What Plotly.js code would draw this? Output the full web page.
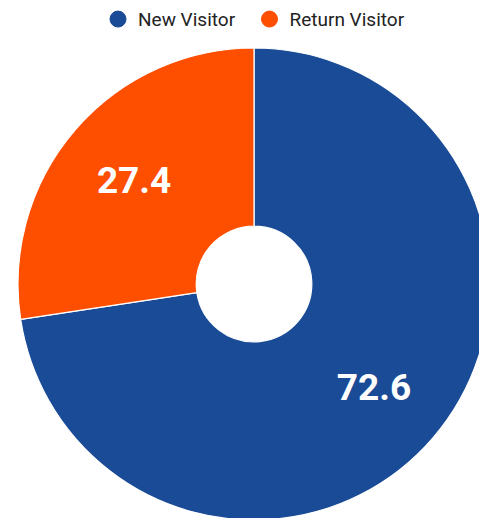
<!DOCTYPE html>
<html>
<head>
<meta charset="utf-8">
<script src="https://cdn.plot.ly/plotly-3.0.1.min.js"></script>
<style>
html,body{margin:0;padding:0;overflow:hidden;background:#fff;width:479px;height:518px;}
#chart{width:508px;height:520px;}
</style>
</head>
<body>
<div id="chart"></div>
<script>
const labels = ["New Visitor", "Return Visitor"];
const values = [72.6, 27.4];
const colors = ["#1a4b96", "#fe4e00"];

const pie = {
  type: "pie",
  labels: labels,
  values: values,
  hole: 0.245,
  sort: false,
  direction: "clockwise",
  rotation: 0,
  marker: {colors: colors, line: {color: "#ffffff", width: 1.2}},
  textinfo: "none",
  showlegend: false,
  automargin: false,
  domain: {x: [0, 1], y: [0, 1]}
};

// transparent overlay pie carrying the value labels (placed slightly further out)
const labelPie = {
  type: "pie",
  labels: labels,
  values: values,
  hole: 0.34,
  sort: false,
  direction: "clockwise",
  rotation: 0,
  marker: {colors: ["rgba(0,0,0,0)", "rgba(0,0,0,0)"], line: {width: 0}},
  texttemplate: "%{value}",
  textposition: "inside",
  insidetextorientation: "horizontal",
  textfont: {family: "Roboto", size: 37, color: "#ffffff", weight: "bold"},
  showlegend: false,
  automargin: false,
  hoverinfo: "skip",
  domain: {x: [0, 1], y: [0, 1]}
};

const legendTraces = labels.map((l, i) => ({
  type: "scatter",
  mode: "markers",
  x: [null], y: [null],
  name: i < labels.length - 1 ? l + "\u00a0\u00a0" : l,
  marker: {color: colors[i], size: 18, symbol: "circle", line: {color: colors[i], width: 1}},
  showlegend: true,
  hoverinfo: "skip"
}));

const layout = {
  width: 508,
  height: 520,
  margin: {l: 18, r: 18, t: 48, b: 0},
  paper_bgcolor: "#ffffff",
  plot_bgcolor: "#ffffff",
  xaxis: {visible: false},
  yaxis: {visible: false},
  showlegend: true,
  uniformtext: {mode: "show", minsize: 37},
  legend: {
    orientation: "h",
    x: 0.5, xanchor: "center",
    y: 1.061, yanchor: "middle",
    font: {family: "Roboto", size: 19, color: "#222222"},
    itemclick: false
  }
};

Plotly.newPlot("chart", [pie, labelPie, ...legendTraces], layout, {displayModeBar: false, staticPlot: true});
</script>
</body>
</html>
